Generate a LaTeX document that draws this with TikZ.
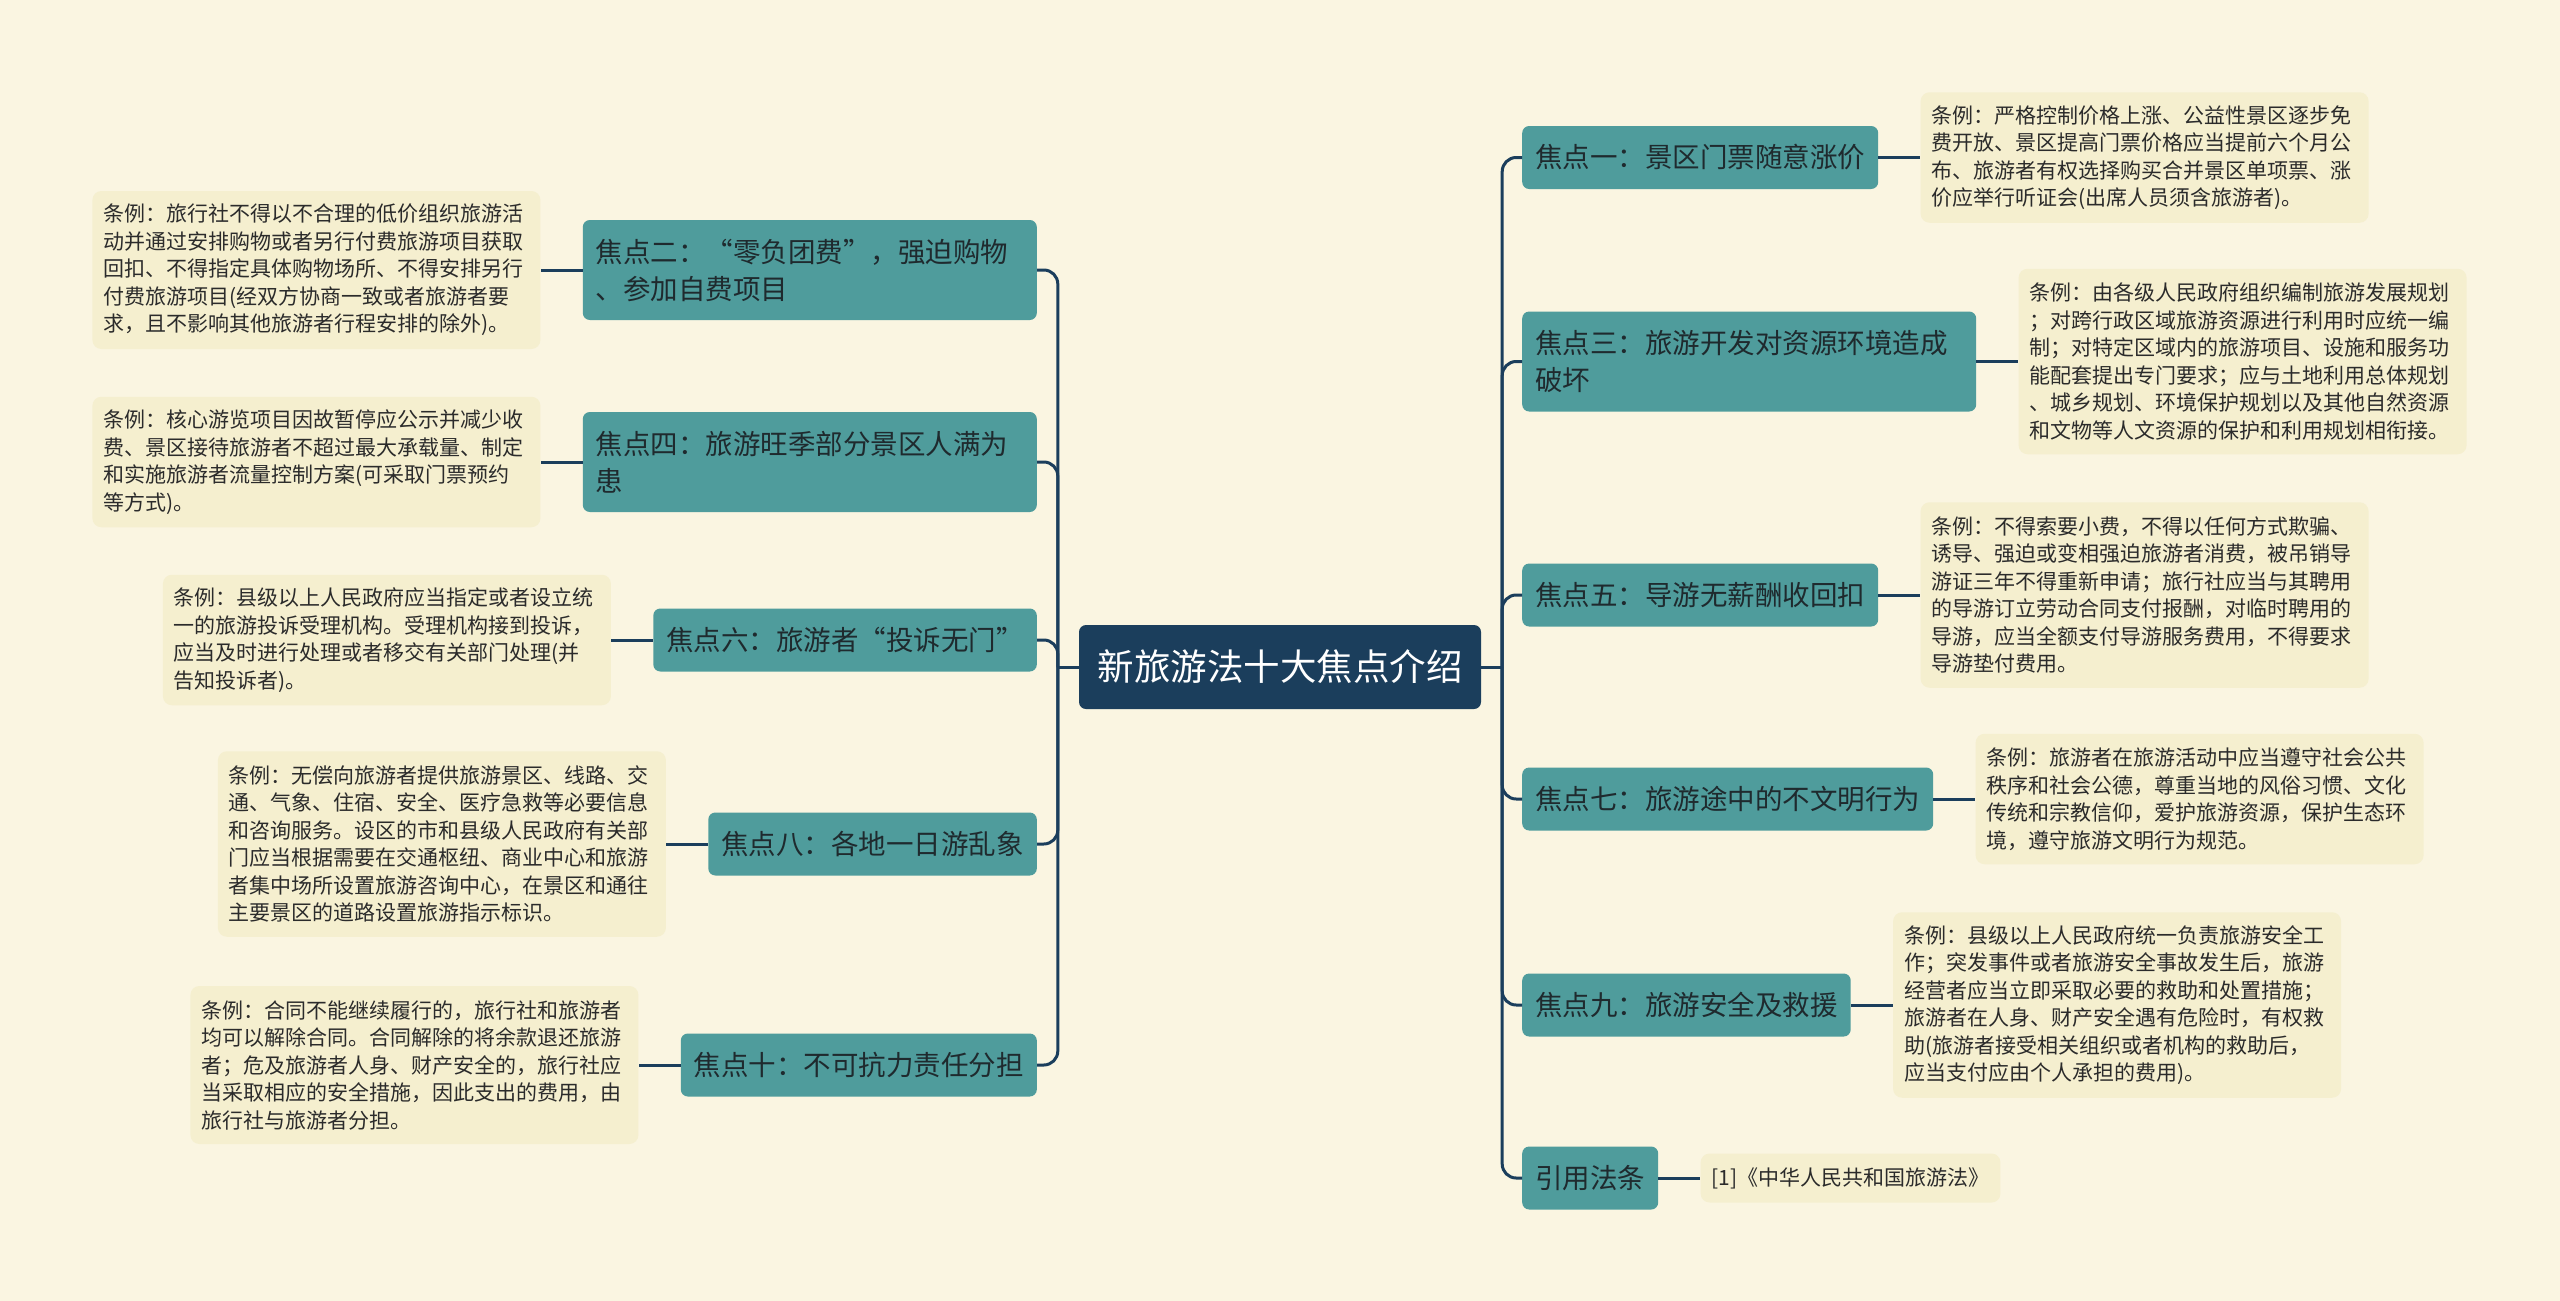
\documentclass[tikz,border=0pt]{standalone}
\usepackage{fontspec}
\setmainfont{Noto Sans CJK SC}
\definecolor{bgc}{HTML}{FAF5E1}
\definecolor{linec}{HTML}{1B3E5C}
\definecolor{rootc}{HTML}{1B3E5C}
\definecolor{topicc}{HTML}{4F9C9C}
\definecolor{topictext}{HTML}{1F2A2E}
\definecolor{leafc}{HTML}{F5EFCF}
\definecolor{leaftext}{HTML}{2B2B2B}
\begin{document}
\begin{tikzpicture}[x=1pt,y=-1pt,
  conn/.style={draw=linec, line width=3pt, rounded corners=14pt},
  rootbox/.style={fill=rootc, rounded corners=7pt, text=white, font=\fontsize{36.5pt}{44pt}\selectfont, minimum width=402pt, minimum height=84pt, inner sep=0pt},
  topic/.style={fill=topicc, rounded corners=7pt, text=topictext, font=\fontsize{27.5pt}{37pt}\selectfont, inner xsep=13pt, inner ysep=4pt, minimum height=63pt, align=left},
  topictwo/.style={topic, text width=428pt, minimum height=100pt},
  leafbase/.style={fill=leafc, rounded corners=9pt, text=leaftext, font=\fontsize{21pt}{27.5pt}\selectfont, inner xsep=11pt, inner ysep=4pt, align=left},
  leaf/.style={leafbase, text width=426pt},
]
\fill[bgc] (0,0) rectangle (2560,1301);
\useasboundingbox (0,0) rectangle (2560,1301);

\node[rootbox] (root) at (1280,667) {新旅游法十大焦点介绍};
\coordinate (rj) at ([xshift=21pt]root.east);
\coordinate (lj) at ([xshift=-21pt]root.west);

% right topics
\node[topic, anchor=west] (t1) at (1522,157.5) {焦点一：景区门票随意涨价};
\node[topictwo, anchor=west] (t3) at (1522,361.5) {焦点三：旅游开发对资源环境造成\\破坏};
\node[topic, anchor=west] (t5) at (1522,595) {焦点五：导游无薪酬收回扣};
\node[topic, anchor=west] (t7) at (1522,799) {焦点七：旅游途中的不文明行为};
\node[topic, anchor=west] (t9) at (1522,1005) {焦点九：旅游安全及救援};
\node[topic, anchor=west] (tr) at (1522,1178) {引用法条};

% left topics
\node[topictwo, anchor=east] (t2) at (1037,270) {焦点二：“零负团费”，强迫购物\\、参加自费项目};
\node[topictwo, anchor=east] (t4) at (1037,462) {焦点四：旅游旺季部分景区人满为\\患};
\node[topic, anchor=east] (t6) at (1037,640) {焦点六：旅游者“投诉无门”};
\node[topic, anchor=east] (t8) at (1037,844) {焦点八：各地一日游乱象};
\node[topic, anchor=east] (t10) at (1037,1065) {焦点十：不可抗力责任分担};

% right leaves
\node[leaf, anchor=west, minimum height=130.5pt] (l1) at ([xshift=42pt]t1.east) {条例：严格控制价格上涨、公益性景区逐步免\\费开放、景区提高门票价格应当提前六个月公\\布、旅游者有权选择购买合并景区单项票、涨\\价应举行听证会(出席人员须含旅游者)。};
\node[leaf, anchor=west, minimum height=185.5pt] (l3) at ([xshift=42pt]t3.east) {条例：由各级人民政府组织编制旅游发展规划\\；对跨行政区域旅游资源进行利用时应统一编\\制；对特定区域内的旅游项目、设施和服务功\\能配套提出专门要求；应与土地利用总体规划\\、城乡规划、环境保护规划以及其他自然资源\\和文物等人文资源的保护和利用规划相衔接。};
\node[leaf, anchor=west, minimum height=185.5pt] (l5) at ([xshift=42pt]t5.east) {条例：不得索要小费，不得以任何方式欺骗、\\诱导、强迫或变相强迫旅游者消费，被吊销导\\游证三年不得重新申请；旅行社应当与其聘用\\的导游订立劳动合同支付报酬，对临时聘用的\\导游，应当全额支付导游服务费用，不得要求\\导游垫付费用。};
\node[leaf, anchor=west, minimum height=130.5pt] (l7) at ([xshift=42pt]t7.east) {条例：旅游者在旅游活动中应当遵守社会公共\\秩序和社会公德，尊重当地的风俗习惯、文化\\传统和宗教信仰，爱护旅游资源，保护生态环\\境，遵守旅游文明行为规范。};
\node[leaf, anchor=west, minimum height=185.5pt] (l9) at ([xshift=42pt]t9.east) {条例：县级以上人民政府统一负责旅游安全工\\作；突发事件或者旅游安全事故发生后，旅游\\经营者应当立即采取必要的救助和处置措施；\\旅游者在人身、财产安全遇有危险时，有权救\\助(旅游者接受相关组织或者机构的救助后，\\应当支付应由个人承担的费用)。};
\node[leafbase, anchor=west, minimum height=49pt] (lr) at ([xshift=42pt]tr.east) {[1]《中华人民共和国旅游法》};

% left leaves
\node[leaf, anchor=east, minimum height=158pt] (l2) at ([xshift=-42pt]t2.west) {条例：旅行社不得以不合理的低价组织旅游活\\动并通过安排购物或者另行付费旅游项目获取\\回扣、不得指定具体购物场所、不得安排另行\\付费旅游项目(经双方协商一致或者旅游者要\\求，且不影响其他旅游者行程安排的除外)。};
\node[leaf, anchor=east, minimum height=130.5pt] (l4) at ([xshift=-42pt]t4.west) {条例：核心游览项目因故暂停应公示并减少收\\费、景区接待旅游者不超过最大承载量、制定\\和实施旅游者流量控制方案(可采取门票预约\\等方式)。};
\node[leaf, anchor=east, minimum height=130.5pt] (l6) at ([xshift=-42pt]t6.west) {条例：县级以上人民政府应当指定或者设立统\\一的旅游投诉受理机构。受理机构接到投诉，\\应当及时进行处理或者移交有关部门处理(并\\告知投诉者)。};
\node[leaf, anchor=east, minimum height=185.5pt] (l8) at ([xshift=-42pt]t8.west) {条例：无偿向旅游者提供旅游景区、线路、交\\通、气象、住宿、安全、医疗急救等必要信息\\和咨询服务。设区的市和县级人民政府有关部\\门应当根据需要在交通枢纽、商业中心和旅游\\者集中场所设置旅游咨询中心，在景区和通往\\主要景区的道路设置旅游指示标识。};
\node[leaf, anchor=east, minimum height=158pt] (l10) at ([xshift=-42pt]t10.west) {条例：合同不能继续履行的，旅行社和旅游者\\均可以解除合同。合同解除的将余款退还旅游\\者；危及旅游者人身、财产安全的，旅行社应\\当采取相应的安全措施，因此支出的费用，由\\旅行社与旅游者分担。};

% connectors
\draw[conn] (root.east) -- (rj);
\draw[conn] (root.west) -- (lj);
\foreach \t in {t1,t3,t5,t7,t9,tr} { \draw[conn] (rj) |- (\t.west); }
\foreach \t in {t2,t4,t6,t8,t10} { \draw[conn] (lj) |- (\t.east); }
\draw[conn] (t1.east) -- (l1.west);
\draw[conn] (t3.east) -- (l3.west);
\draw[conn] (t5.east) -- (l5.west);
\draw[conn] (t7.east) -- (l7.west);
\draw[conn] (t9.east) -- (l9.west);
\draw[conn] (tr.east) -- (lr.west);
\draw[conn] (t2.west) -- (l2.east);
\draw[conn] (t4.west) -- (l4.east);
\draw[conn] (t6.west) -- (l6.east);
\draw[conn] (t8.west) -- (l8.east);
\draw[conn] (t10.west) -- (l10.east);
\end{tikzpicture}
\end{document}
